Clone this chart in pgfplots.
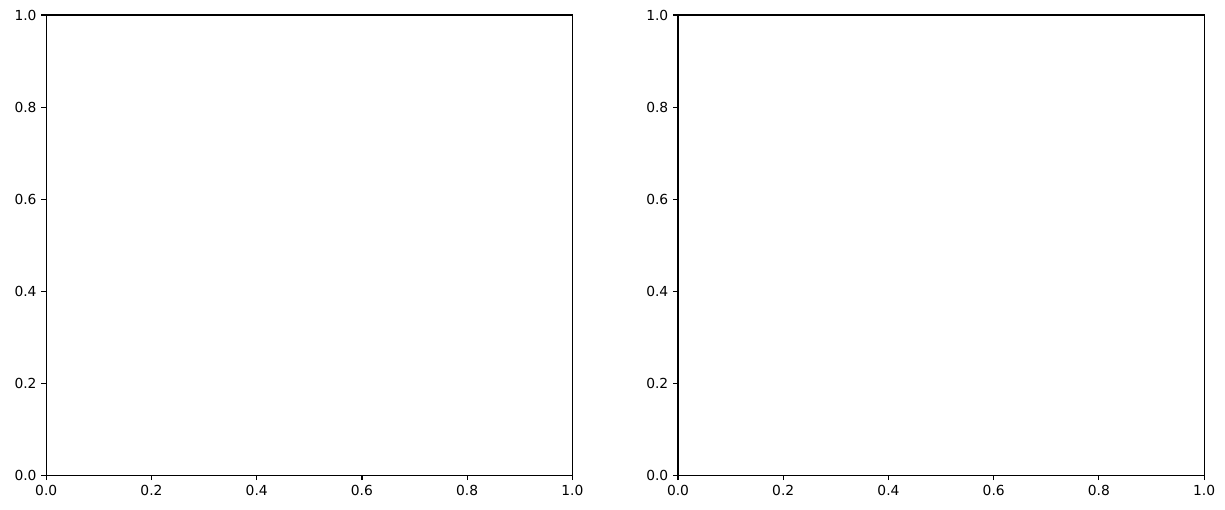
\documentclass[border=0pt]{standalone}
\usepackage{pgfplots}
\pgfplotsset{compat=1.18}
\usepackage{fontspec}
\setmainfont{DejaVu Sans}
\begin{document}
\pgfplotsset{
  emptyax/.style={
    scale only axis,
    width=380.2pt, height=332.6pt,
    xmin=0, xmax=1, ymin=0, ymax=1,
    xtick={0,0.2,...,1.0}, ytick={0,0.2,...,1.0},
    tick align=outside,
    major tick length=3.5pt,
    every tick/.style={black, line width=0.8pt},
    axis line style={line width=0.8pt},
    xtick pos=bottom, ytick pos=left,
    tick label style={font=\fontsize{10}{12}\selectfont},
    /pgf/number format/assume math mode=true,
    /pgf/number format/fixed,
    /pgf/number format/fixed zerofill,
    /pgf/number format/precision=1,
  }
}
\begin{tikzpicture}
  \begin{axis}[emptyax, name=left, at={(0pt,0pt)}, anchor=south west]
    \addplot[draw=none] coordinates {(0,0)};
  \end{axis}
  \begin{axis}[emptyax, name=right, at={(456.5pt,0pt)}, anchor=south west]
    \addplot[draw=none] coordinates {(0,0)};
  \end{axis}
  \pgfresetboundingbox
  \path[use as bounding box] (-30.24pt,-24.48pt) rectangle (851.76pt,343.44pt);
\end{tikzpicture}
\end{document}
